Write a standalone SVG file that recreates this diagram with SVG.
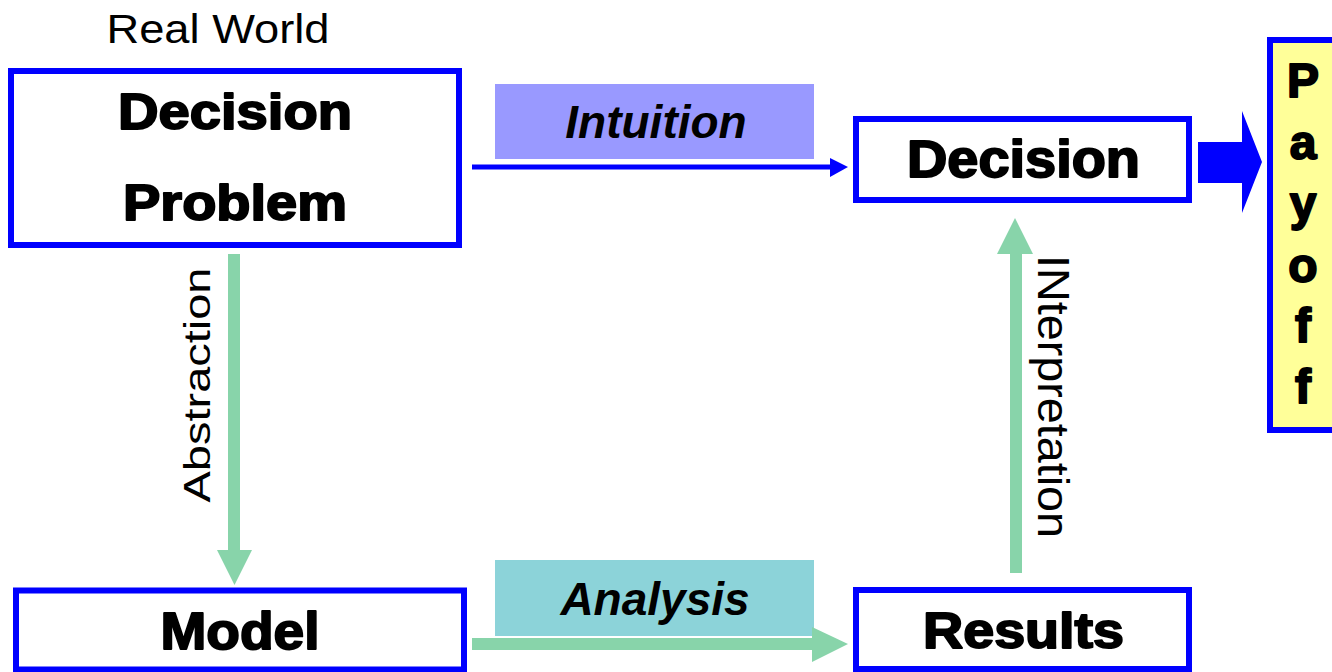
<svg xmlns="http://www.w3.org/2000/svg" width="1332" height="672" viewBox="0 0 1332 672">
<style>
.box{fill:#fff;stroke:#0000ff;stroke-width:6}
.bt{font-family:"Liberation Sans",Arial,sans-serif;font-weight:bold;fill:#000;stroke:#000;stroke-width:1.9;stroke-linejoin:round;text-anchor:middle}
.it{font-family:"Liberation Sans",Arial,sans-serif;font-weight:bold;font-style:italic;font-size:46px;fill:#000;text-anchor:middle}
.rt{font-family:"Liberation Sans",Arial,sans-serif;fill:#000;text-anchor:middle}
.g{fill:#88d4aa}
</style>
<rect width="1332" height="672" fill="#fff"/>
<text class="rt" x="218" y="43" font-size="40" textLength="223" lengthAdjust="spacingAndGlyphs">Real World</text>
<g id="decision-problem">
<rect class="box" x="11" y="71" width="448" height="174"/>
<text class="bt" x="235" y="129" font-size="50" textLength="234" lengthAdjust="spacingAndGlyphs">Decision</text>
<text class="bt" x="235" y="220" font-size="50" textLength="224" lengthAdjust="spacingAndGlyphs">Problem</text>
</g>
<g id="decision">
<rect class="box" x="856" y="119" width="333" height="81"/>
<text class="bt" x="1023.5" y="177" font-size="51" textLength="233" lengthAdjust="spacingAndGlyphs">Decision</text>
</g>
<g id="model">
<rect class="box" x="16" y="590.5" width="448" height="79"/>
<text class="bt" x="240" y="649" font-size="52" textLength="159" lengthAdjust="spacingAndGlyphs">Model</text>
</g>
<g id="results">
<rect class="box" x="856" y="590" width="333" height="79"/>
<text class="bt" x="1023.5" y="648" font-size="50" textLength="201" lengthAdjust="spacingAndGlyphs">Results</text>
</g>
<g id="payoff">
<rect x="1270" y="40" width="80" height="390" fill="#ffff99" stroke="#0000ff" stroke-width="6"/>
<text class="bt" x="1303" y="97" font-size="48">P</text>
<text class="bt" x="1303" y="159" font-size="48">a</text>
<text class="bt" x="1303" y="220" font-size="48">y</text>
<text class="bt" x="1303" y="282" font-size="48">o</text>
<text class="bt" x="1303" y="342" font-size="48">f</text>
<text class="bt" x="1303" y="403" font-size="48">f</text>
</g>
<g id="intuition-label">
<rect x="495" y="84" width="319" height="75" fill="#9999ff"/>
<text class="it" x="656" y="138">Intuition</text>
</g>
<g id="analysis-label">
<rect x="495" y="560" width="319" height="76" fill="#8cd3d9"/>
<text class="it" x="655" y="615">Analysis</text>
</g>
<g id="connectors">
<line x1="472" y1="167" x2="832" y2="167" stroke="#0000ff" stroke-width="5"/>
<polygon points="830,158 848,167 830,177" fill="#0000ff"/>
<polygon points="1198,142 1242,142 1242,111 1262,162 1242,213 1242,183 1198,183" fill="#0000ff"/>
<rect class="g" x="228" y="254" width="12" height="297"/>
<polygon class="g" points="217,550 252,550 234.5,585"/>
<rect class="g" x="1010" y="253" width="12" height="320"/>
<polygon class="g" points="997,254 1033,254 1015,218"/>
<rect class="g" x="472" y="638" width="341" height="12"/>
<polygon class="g" points="812,627 848,644 812,662"/>
<text class="rt" transform="translate(210,385) rotate(-90)" font-size="36" textLength="235" lengthAdjust="spacingAndGlyphs">Abstraction</text>
<text class="rt" transform="translate(1038,396.5) rotate(90)" font-size="45" textLength="283" lengthAdjust="spacingAndGlyphs">INterpretation</text>
</g>
</svg>
